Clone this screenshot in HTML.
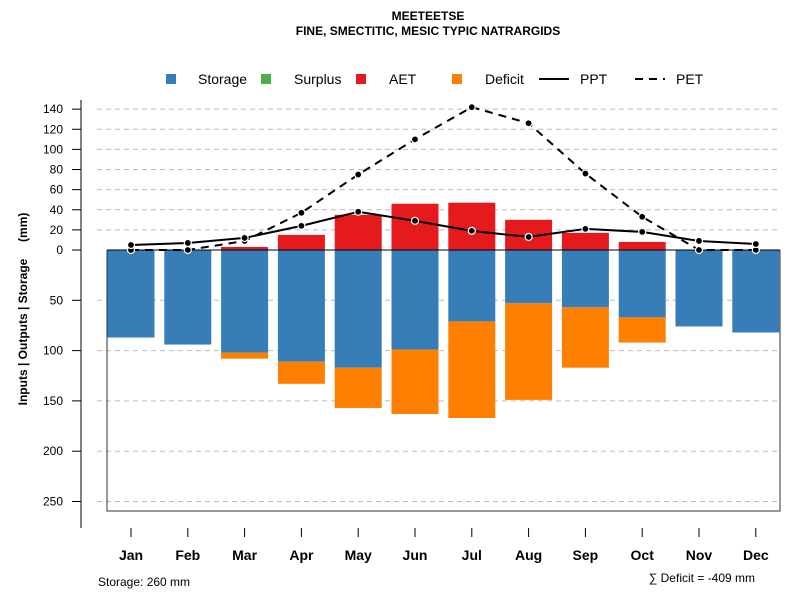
<!DOCTYPE html>
<html><head><meta charset="utf-8"><style>
body{margin:0;background:#fff;font-family:"Liberation Sans",sans-serif}
svg text{font-family:"Liberation Sans",sans-serif}
</style></head><body>
<svg id="c" width="800" height="600" xmlns="http://www.w3.org/2000/svg">
<text x="428" y="20" text-anchor="middle" font-size="12" font-weight="bold">MEETEETSE</text>
<text x="428" y="35" text-anchor="middle" font-size="12" font-weight="bold">FINE, SMECTITIC, MESIC TYPIC NATRARGIDS</text>
<g id="legend" font-size="14">
<rect x="166" y="74" width="10" height="10" fill="#377eb8"/><text x="198" y="84">Storage</text>
<rect x="261" y="74" width="10" height="10" fill="#4daf4a"/><text x="294" y="84">Surplus</text>
<rect x="356" y="74" width="10" height="10" fill="#e41a1c"/><text x="389" y="84">AET</text>
<rect x="452" y="74" width="10" height="10" fill="#ff7f00"/><text x="485" y="84">Deficit</text>
<line x1="539" y1="79" x2="569" y2="79" stroke="#000" stroke-width="2"/><text x="580" y="84">PPT</text>
<line x1="635" y1="79" x2="665" y2="79" stroke="#000" stroke-width="2" stroke-dasharray="8,6"/><text x="676" y="84">PET</text>
</g>
<text transform="translate(27,309) rotate(-90)" text-anchor="middle" font-size="12" font-weight="bold" xml:space="preserve" style="white-space:pre">Inputs | Outputs | Storage     (mm)</text>
<text x="98" y="586" font-size="12">Storage: 260 mm</text>
<text x="755" y="582" text-anchor="end" font-size="12">∑ Deficit = -409 mm</text>
<g id="plot"></g>
</svg>
<script>
const months=["Jan","Feb","Mar","Apr","May","Jun","Jul","Aug","Sep","Oct","Nov","Dec"];
const storage=[87,94,102,111,117,99,71,53,57,67,76,82];
const deficit=[0,0,6,22,40,64,96,96,60,25,0,0];
const aet=[0,0,3,15,35,46,47,30,17,8,0,0];
const ppt=[5,7,12,24,38,29,19,13,21,18,9,6];
const pet=[0,0,9,37,75,110,142,126,76,33,0,0];
const posTicks=[0,20,40,60,80,100,120,140];
const negTicks=[50,100,150,200,250];
const NS="http://www.w3.org/2000/svg";
const g=document.getElementById('plot');
const y0=250,k=1.006;
const y=v=>y0-v*k;
const x=i=>131+i*56.8;
const bw=47;
function el(t,a){const e=document.createElementNS(NS,t);for(const n in a)e.setAttribute(n,a[n]);g.appendChild(e);return e;}
function tick(v,lab){
 const t=el('text',{x:63,y:y(v)+4,'text-anchor':'end','font-size':12});t.textContent=lab;
 
 
 el('line',{x1:72,x2:81,y1:y(v),y2:y(v),stroke:'#000'});
}
posTicks.forEach(v=>{if(v>0){const l=el('line',{x1:97,x2:780,y1:y(v),y2:y(v),stroke:'#bbb','stroke-dasharray':'5,4'});

}
tick(v,v);});
negTicks.forEach(v=>{const l=el('line',{x1:97,x2:780,y1:y(-v),y2:y(-v),stroke:'#bbb','stroke-dasharray':'5,4'});


tick(-v,v);});
el('line',{x1:81,x2:81,y1:100,y2:528,stroke:'#000'});
months.forEach((m,i)=>{
 const s=el('rect',{x:x(i)-bw/2,y:y0,width:bw,height:storage[i]*k,fill:'#377eb8'});
 
 
 if(deficit[i]>0){const d=el('rect',{x:x(i)-bw/2,y:y(-storage[i]),width:bw,height:deficit[i]*k,fill:'#ff7f00'});
 
 }
 if(aet[i]>0){const a=el('rect',{x:x(i)-bw/2,y:y(aet[i]),width:bw,height:aet[i]*k,fill:'#e41a1c'});
 
 }
 el('line',{x1:x(i),x2:x(i),y1:528,y2:537,stroke:'#000'});
 const t=el('text',{x:x(i),y:560,'text-anchor':'middle','font-size':14,'font-weight':'bold'});t.textContent=m;
 
 
});
el('path',{d:'M107,250 V511 H780 V250',fill:'none',stroke:'#333'});
el('line',{x1:107,x2:780,y1:y0,y2:y0,stroke:'#000'});
function series(vals,dash,name){
 const p=el('polyline',{points:vals.map((v,i)=>x(i)+','+y(v)).join(' '),fill:'none',stroke:'#000','stroke-width':2,'stroke-dasharray':dash});
 
 
 vals.forEach((v,i)=>{const c=el('circle',{cx:x(i),cy:y(v),r:3.5,fill:'#000',stroke:'#fff','stroke-width':1.2});
 
 });
}
series(pet,'8,6','pet');
series(ppt,'none','ppt');
</script>
</body></html>
